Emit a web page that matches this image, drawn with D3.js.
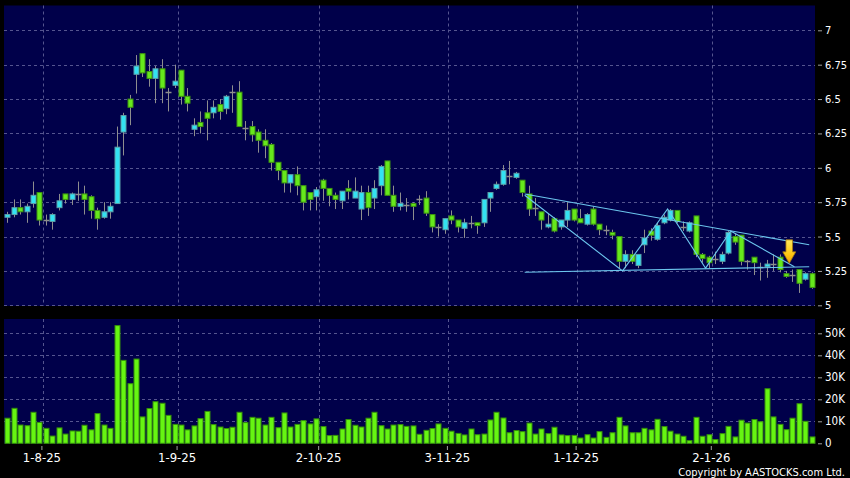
<!DOCTYPE html>
<html>
<head>
<meta charset="utf-8">
<script src="https://cdn.jsdelivr.net/npm/d3@7"></script>
<style>
body { margin: 0; background: #000; }
svg { display: block; }
text { font-family: "DejaVu Sans Condensed", "DejaVu Sans", sans-serif; font-stretch: condensed; }
</style>
</head>
<body>
<div id="chartDiv"></div>
<script>
// daily OHLC, 126 sessions from late Jul 2025 to mid Feb 2026
var openP = [5.64,5.66,5.71,5.68,5.74,5.82,5.62,5.61,5.71,5.81,5.77,5.81,5.81,5.79,5.69,5.64,5.68,5.74,6.26,6.50,
  6.68,6.83,6.70,6.65,6.72,6.55,6.60,6.71,6.52,6.28,6.33,6.40,6.40,6.46,6.43,6.55,6.55,6.29,6.30,6.26,
  6.20,6.17,6.04,5.98,5.89,5.95,5.87,5.82,5.79,5.91,5.85,5.80,5.76,5.85,5.78,5.70,5.82,5.78,5.87,6.05,
  5.80,5.72,5.73,5.74,5.77,5.78,5.66,5.57,5.55,5.65,5.62,5.56,5.60,5.60,5.60,5.78,5.85,5.88,5.94,5.93,
  5.91,5.81,5.71,5.68,5.57,5.63,5.57,5.62,5.70,5.63,5.59,5.70,5.59,5.55,5.53,5.50,5.32,5.37,5.29,5.44,
  5.54,5.48,5.60,5.62,5.69,5.57,5.54,5.65,5.37,5.35,5.34,5.32,5.38,5.50,5.51,5.32,5.35,5.28,5.28,5.30,
  5.35,5.23,5.22,5.26,5.19,5.23];
var highP = [5.68,5.77,5.77,5.74,5.90,5.82,5.66,5.67,5.81,5.81,5.82,5.90,5.87,5.80,5.71,5.75,5.75,6.30,6.40,6.53,
  6.82,6.83,6.79,6.74,6.79,6.58,6.75,6.71,6.58,6.36,6.41,6.49,6.49,6.50,6.53,6.60,6.63,6.34,6.34,6.28,
  6.28,6.18,6.04,5.98,5.95,6.01,5.87,5.82,5.86,5.92,5.85,5.82,5.83,5.91,5.93,5.87,5.87,5.91,6.02,6.05,
  5.87,5.82,5.78,5.75,5.80,5.83,5.66,5.59,5.63,5.69,5.62,5.63,5.65,5.60,5.77,5.82,5.90,6.02,6.05,5.97,
  5.91,5.87,5.78,5.68,5.67,5.64,5.62,5.75,5.70,5.70,5.67,5.72,5.59,5.58,5.55,5.50,5.40,5.40,5.37,5.55,
  5.56,5.60,5.66,5.70,5.69,5.61,5.61,5.65,5.38,5.36,5.39,5.39,5.54,5.52,5.51,5.33,5.35,5.31,5.33,5.37,
  5.37,5.25,5.26,5.26,5.24,5.24];
var lowP = [5.60,5.64,5.66,5.60,5.71,5.58,5.58,5.55,5.69,5.74,5.73,5.76,5.66,5.63,5.55,5.63,5.63,5.74,6.09,6.31,
  6.54,6.66,6.59,6.47,6.47,6.41,6.58,6.46,6.41,6.23,6.25,6.20,6.36,6.35,6.39,6.40,6.30,6.20,6.19,6.11,
  6.07,5.98,5.91,5.82,5.82,5.80,5.69,5.69,5.69,5.76,5.72,5.70,5.70,5.77,5.78,5.62,5.65,5.70,5.80,5.80,
  5.68,5.69,5.68,5.62,5.73,5.65,5.53,5.50,5.52,5.59,5.53,5.49,5.56,5.52,5.57,5.68,5.84,5.87,5.88,5.92,
  5.79,5.65,5.65,5.55,5.56,5.53,5.55,5.57,5.61,5.60,5.58,5.58,5.51,5.51,5.48,5.27,5.27,5.30,5.27,5.38,
  5.47,5.47,5.59,5.61,5.60,5.54,5.53,5.35,5.31,5.27,5.30,5.30,5.37,5.44,5.29,5.26,5.22,5.18,5.20,5.25,
  5.24,5.20,5.17,5.09,5.18,5.12];
var closeP = [5.66,5.71,5.68,5.72,5.80,5.62,5.62,5.66,5.76,5.77,5.81,5.81,5.77,5.69,5.63,5.68,5.72,6.15,6.38,6.44,
  6.74,6.69,6.65,6.72,6.58,6.55,6.63,6.52,6.47,6.31,6.30,6.36,6.44,6.41,6.52,6.55,6.30,6.29,6.24,6.20,
  6.16,6.04,5.98,5.89,5.95,5.87,5.75,5.77,5.84,5.85,5.80,5.77,5.83,5.83,5.83,5.82,5.71,5.85,6.01,5.80,
  5.72,5.74,5.73,5.72,5.77,5.67,5.57,5.57,5.63,5.62,5.57,5.60,5.60,5.58,5.77,5.82,5.88,5.98,5.94,5.96,
  5.82,5.70,5.71,5.62,5.59,5.54,5.62,5.69,5.62,5.60,5.66,5.59,5.55,5.55,5.51,5.32,5.37,5.32,5.37,5.49,
  5.51,5.58,5.64,5.69,5.61,5.57,5.60,5.37,5.34,5.31,5.34,5.37,5.53,5.46,5.32,5.32,5.31,5.28,5.30,5.30,
  5.26,5.21,5.22,5.16,5.23,5.13];
// volume in thousands of shares
var volume = [11.4,15.9,8.3,8.0,14.1,9.5,6.8,3.3,7.0,4.2,5.6,5.5,8.2,6.1,13.5,8.3,6.8,53.5,37.7,27.1,
  38.3,12.0,15.8,18.9,18.2,12.7,8.6,8.3,6.1,7.9,11.2,14.5,8.5,7.4,6.7,7.3,14.1,9.4,11.8,11.4,
  8.3,11.8,7.1,13.8,7.4,8.6,10.3,8.8,11.1,7.6,3.5,3.6,6.5,10.8,8.2,7.4,11.4,14.1,8.0,6.5,
  8.3,8.5,7.7,7.9,4.1,5.9,6.7,8.8,6.8,5.5,4.5,3.8,6.5,3.9,4.2,10.6,14.1,11.5,4.8,5.8,
  5.3,9.2,4.2,6.5,4.4,7.3,3.8,3.5,3.6,2.4,3.9,2.4,5.3,2.7,4.8,11.8,7.9,4.8,4.8,6.8,
  6.1,10.9,7.6,5.5,4.2,3.2,1.2,11.8,3.2,3.9,1.7,4.4,7.7,2.9,10.5,9.2,10.8,9.8,24.8,12.0,
  8.6,6.2,11.4,18.0,10.0,2.9];

var tickIndex = [5, 26, 48, 68, 88, 109];
var tickLabels = ["1-8-25", "1-9-25", "2-10-25", "3-11-25", "1-12-25", "2-1-26"];
var priceTicks = [5, 5.25, 5.5, 5.75, 6, 6.25, 6.5, 6.75, 7];
var volTicks = [0, 10, 20, 30, 40, 50];

// drawn trend lines: [session index, price]
var trendUpper = [[80.4, 5.81], [124.6, 5.44]];
var trendLower = [[80.4, 5.24], [124.6, 5.28]];
var trendZigzag = [[80.4, 5.80], [95.6, 5.25], [102.6, 5.70], [108.5, 5.27], [112.4, 5.54], [122.3, 5.28]];
var arrowIndex = 121.5, arrowPrice = 5.305;

var width = 850, height = 478;
var plotLeft = 4, plotRight = 815;
var priceTop = 5.5, priceBottom = 306;
var volTop = 319, volBottom = 443.5;
var N = openP.length;
var bodyWidth = 5;

var navy = "#00004a";
var gridColor = "#55558f";
var upFill = "#33e2f2", upStroke = "#5b9fa8";
var downFill = "#66e81c", downStroke = "#3c9410";
var wickColor = "#8e8e8e";

var x = d3.scaleLinear().domain([-0.5, N - 0.5]).range([plotLeft, plotRight]);
var y = d3.scaleLinear().domain([5, 7]).range([305.3, 30.3]);
var yv = d3.scaleLinear().domain([0, 50]).range([443.3, 333.3]);

var chart = d3.select("#chartDiv").append("svg")
    .attr("width", width)
    .attr("height", height)
    .style("background", "#000");

// panel backgrounds
chart.append("rect").attr("x", plotLeft).attr("y", priceTop)
    .attr("width", plotRight - plotLeft).attr("height", priceBottom - priceTop).attr("fill", navy);
chart.append("rect").attr("x", plotLeft).attr("y", volTop)
    .attr("width", plotRight - plotLeft).attr("height", volBottom - volTop).attr("fill", navy);

// grid
var grid = chart.append("g").attr("stroke", gridColor).attr("stroke-dasharray", "3,3").attr("stroke-width", 1);
grid.selectAll(".hp").data(priceTicks).enter().append("line")
    .attr("x1", plotLeft).attr("x2", plotRight)
    .attr("y1", function(d) { return Math.round(y(d)) + 0.5; })
    .attr("y2", function(d) { return Math.round(y(d)) + 0.5; });
grid.selectAll(".hv").data(volTicks.filter(function(d) { return d > 0; })).enter().append("line")
    .attr("x1", plotLeft).attr("x2", plotRight)
    .attr("y1", function(d) { return Math.round(yv(d)) + 0.5; })
    .attr("y2", function(d) { return Math.round(yv(d)) + 0.5; });
tickIndex.forEach(function(t) {
    var gx = Math.round(x(t + 0.5)) + 0.5;
    grid.append("line").attr("x1", gx).attr("x2", gx).attr("y1", priceTop).attr("y2", priceBottom);
    grid.append("line").attr("x1", gx).attr("x2", gx).attr("y1", volTop).attr("y2", volBottom);
});

// candles
var candles = chart.append("g");
d3.range(N).forEach(function(i) {
    var cx = Math.round(x(i));
    var o = openP[i], c = closeP[i];
    candles.append("line")
        .attr("x1", cx + 0.5).attr("x2", cx + 0.5)
        .attr("y1", y(highP[i])).attr("y2", y(lowP[i]))
        .attr("stroke", wickColor).attr("stroke-width", 1);
    if (o === c) {
        candles.append("line")
            .attr("x1", cx - 2.5).attr("x2", cx + 3.5)
            .attr("y1", Math.round(y(o)) + 0.5).attr("y2", Math.round(y(o)) + 0.5)
            .attr("stroke", wickColor).attr("stroke-width", 1.5);
    } else {
        var up = c > o;
        var top = y(Math.max(o, c)), bot = y(Math.min(o, c));
        candles.append("rect")
            .attr("x", cx - 2).attr("y", top)
            .attr("width", bodyWidth).attr("height", Math.max(bot - top, 1.5))
            .attr("fill", up ? upFill : downFill)
            .attr("stroke", up ? upStroke : downStroke).attr("stroke-width", 1);
    }
});

// trend lines
var line = d3.line().x(function(d) { return x(d[0]); }).y(function(d) { return y(d[1]); });
var trends = chart.append("g").attr("fill", "none").attr("stroke", "#6cc6ee").attr("stroke-width", 1.1);
[trendUpper, trendLower, trendZigzag].forEach(function(tl) {
    trends.append("path").attr("d", line(tl));
});

// arrow marker
var defs = chart.append("defs");
var grad = defs.append("linearGradient").attr("id", "arrowGrad").attr("x1", 0).attr("y1", 0).attr("x2", 0).attr("y2", 1);
grad.append("stop").attr("offset", "0%").attr("stop-color", "#ffe85a");
grad.append("stop").attr("offset", "60%").attr("stop-color", "#ffc814");
grad.append("stop").attr("offset", "100%").attr("stop-color", "#f0a000");
var ax = x(arrowIndex), ay = y(arrowPrice);
chart.append("path")
    .attr("d", "M" + (ax - 3.3) + "," + (ay - 23.5) + "L" + (ax + 3.3) + "," + (ay - 23.5) +
        "L" + (ax + 3.3) + "," + (ay - 11.5) + "L" + (ax + 6.5) + "," + (ay - 11.5) +
        "L" + ax + "," + ay + "L" + (ax - 6.5) + "," + (ay - 11.5) +
        "L" + (ax - 3.3) + "," + (ay - 11.5) + "Z")
    .attr("fill", "url(#arrowGrad)").attr("stroke", "#a87a10").attr("stroke-width", 0.8);

// volume bars
chart.append("g").selectAll(".vol").data(volume).enter().append("rect")
    .attr("class", "vol")
    .attr("x", function(d, i) { return Math.round(x(i)) - 2; })
    .attr("y", function(d) { return yv(d); })
    .attr("width", bodyWidth)
    .attr("height", function(d) { return yv(0) - yv(d); })
    .attr("fill", "#66f512").attr("stroke", "#35900a").attr("stroke-width", 1);

// right axes
var priceAxis = d3.axisRight(y).tickValues(priceTicks).tickSize(4).tickPadding(3)
    .tickFormat(function(d) { return String(d); });
var pa = chart.append("g").attr("transform", "translate(818,0)").call(priceAxis);
var volAxis = d3.axisRight(yv).tickValues(volTicks).tickSize(4).tickPadding(3)
    .tickFormat(function(d) { return d === 0 ? "0" : d + "K"; });
var va = chart.append("g").attr("transform", "translate(818,0)").call(volAxis);

// date axis
var dateAxis = d3.axisBottom(x).tickValues(tickIndex).tickSize(4).tickPadding(3)
    .tickFormat(function(d, i) { return tickLabels[i]; });
var da = chart.append("g").attr("transform", "translate(2,446)").call(dateAxis);

[pa, va, da].forEach(function(g) {
    g.select(".domain").remove();
    g.selectAll(".tick line").attr("stroke", "#a0a0a0");
    g.selectAll("text").attr("fill", "#ffffff").style("font-family", null);
});
pa.selectAll("text").style("font-size", "11px");
va.selectAll("text").style("font-size", "11.5px");
da.selectAll("text").style("font-size", "13px");

chart.append("text")
    .attr("x", 845).attr("y", 475.5)
    .attr("text-anchor", "end")
    .attr("fill", "#ffffff")
    .style("font-size", "11px")
    .text("Copyright by AASTOCKS.com Ltd.");
</script>
</body>
</html>
